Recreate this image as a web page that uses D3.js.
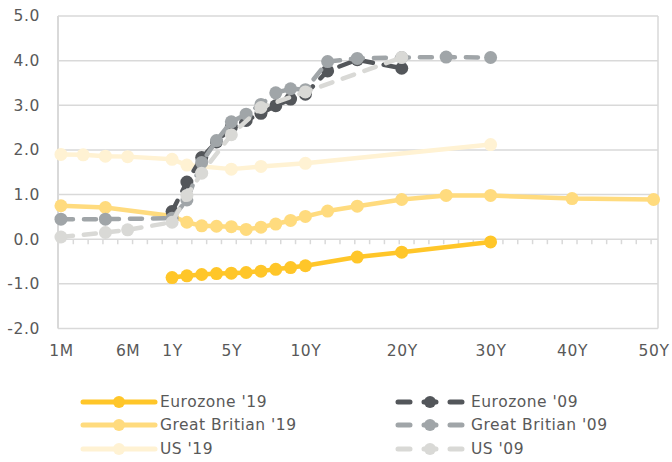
<!DOCTYPE html>
<html>
<head>
<meta charset="utf-8">
<script src="https://cdn.jsdelivr.net/npm/d3@7"></script>
<style>
    body { margin: 0; background: #fff; }
    svg text { font-family: "DejaVu Sans", sans-serif; font-size: 15.5px; letter-spacing: 0.6px; fill: #595959; }
    svg .legend text { font-size: 15.5px; letter-spacing: 0.5px; }
</style>
</head>
<body>
<svg width="672" height="462"></svg>
<script>
// tenors and where they sit on the x axis (axis units, one minor tick = 1)
const tenors = ["1M", "2M", "3M", "6M", "1Y", "2Y", "3Y", "4Y", "5Y", "6Y", "7Y", "8Y", "9Y", "10Y", "12Y", "15Y", "20Y", "25Y", "30Y", "40Y", "50Y"];
const tenorPos = [0, 1.5, 3, 4.5, 7.5, 8.5, 9.5, 10.5, 11.5, 12.5, 13.5, 14.5, 15.5, 16.5, 18, 20, 23, 26, 29, 34.5, 40];
const xLabels = ["1M", "6M", "1Y", "5Y", "10Y", "20Y", "30Y", "40Y", "50Y"];
const yTicks = [-2, -1, 0, 1, 2, 3, 4, 5];

// yields (%), null = no point for that tenor
const eurozone19 = [null, null, null, null, -0.86, -0.82, -0.79, -0.77, -0.76, -0.745, -0.715, -0.675, -0.635, -0.595, null, -0.40, -0.29, null, -0.06, null, null];
const britain19 = [0.75, null, 0.71, null, 0.52, 0.38, 0.30, 0.29, 0.28, 0.22, 0.27, 0.34, 0.42, 0.51, 0.63, 0.74, 0.89, 0.98, 0.98, 0.91, 0.89];
const us19 = [1.90, 1.89, 1.86, 1.85, 1.79, 1.66, null, null, 1.57, null, 1.63, null, null, 1.70, null, null, null, null, 2.12, null, null];
const eurozone09 = [null, null, null, null, 0.62, 1.28, 1.83, 2.18, 2.51, 2.66, 2.82, 2.99, 3.14, 3.25, 3.77, 4.02, 3.83, null, null, null, null];
const britain09 = [0.45, null, 0.45, null, 0.47, 0.88, 1.72, 2.21, 2.63, 2.80, 3.02, 3.28, 3.37, 3.35, 3.98, 4.05, 4.07, 4.08, 4.07, null, null];
const us09 = [0.05, null, 0.15, 0.21, 0.38, 0.98, 1.48, null, 2.34, null, 2.95, null, null, 3.30, null, null, 4.07, null, null, null, null];

const seriesNames = ["Eurozone '19", "Great Britian '19", "US '19", "Eurozone '09", "Great Britian '09", "US '09"];
const seriesValues = [eurozone19, britain19, us19, eurozone09, britain09, us09];
const seriesColors = ["#FFC629", "#FFDB7E", "#FFF2D3", "#53565A", "#A0A5A8", "#D9D9D6"];
const seriesDashed = [false, false, false, true, true, true];

const svg = d3.select("svg");
const plot = {left: 58, right: 658, top: 16, bottom: 328.5};
const gridColor = "#D9D9D9";

const x = d3.scaleLinear().domain([-0.2, 40.3]).range([plot.left, plot.right]);
const y = d3.scaleLinear().domain([-2, 5]).range([plot.bottom, plot.top]);

// horizontal gridlines
svg.append("g")
    .selectAll("line")
    .data(yTicks)
    .join("line")
    .attr("x1", plot.left)
    .attr("x2", plot.right)
    .attr("y1", d => y(d))
    .attr("y2", d => y(d))
    .attr("stroke", gridColor)
    .attr("stroke-width", 1.5);

// plot area sides
svg.append("line")
    .attr("x1", plot.left).attr("x2", plot.left)
    .attr("y1", plot.top).attr("y2", plot.bottom)
    .attr("stroke", gridColor).attr("stroke-width", 2);
svg.append("line")
    .attr("x1", plot.right).attr("x2", plot.right)
    .attr("y1", plot.top).attr("y2", plot.bottom)
    .attr("stroke", gridColor).attr("stroke-width", 1.5);

// small tick marks on the zero line
const minorTicks = d3.range(41).map(k => k - 0.2);
const tickAxis = svg.append("g")
    .attr("transform", "translate(0," + y(0) + ")")
    .call(d3.axisBottom(x).tickValues(minorTicks).tickSize(5).tickFormat(""));
tickAxis.select(".domain").remove();
tickAxis.selectAll("line").attr("stroke", gridColor).attr("stroke-width", 1.5);

// y axis labels
const yAxis = svg.append("g")
    .attr("transform", "translate(" + plot.left + ",0)")
    .call(d3.axisLeft(y).tickValues(yTicks).tickSize(0).tickPadding(18).tickFormat(d => d.toFixed(1)));
yAxis.select(".domain").remove();
yAxis.selectAll("text").attr("font-size", null).attr("font-family", null);

// x axis labels
const xAxis = svg.append("g")
    .attr("transform", "translate(0," + plot.bottom + ")")
    .call(d3.axisBottom(x)
        .tickValues(xLabels.map(l => tenorPos[tenors.indexOf(l)]))
        .tickSize(0).tickPadding(16)
        .tickFormat(v => tenors[tenorPos.indexOf(v)]));
xAxis.select(".domain").remove();
xAxis.selectAll("text").attr("font-size", null).attr("font-family", null);

const line = d3.line()
    .x(d => x(d.pos))
    .y(d => y(d.value));

seriesValues.forEach(function (values, i) {
    const points = tenors
        .map((t, j) => ({pos: tenorPos[j], value: values[j]}))
        .filter(d => d.value !== null);
    const g = svg.append("g");
    g.append("path")
        .attr("d", line(points))
        .attr("fill", "none")
        .attr("stroke", seriesColors[i])
        .attr("stroke-width", 4.5)
        .attr("stroke-linejoin", "round")
        .attr("stroke-linecap", "round")
        .attr("stroke-dasharray", seriesDashed[i] ? "12,11" : null);
    g.selectAll("circle")
        .data(points)
        .join("circle")
        .attr("cx", d => x(d.pos))
        .attr("cy", d => y(d.value))
        .attr("r", 6.5)
        .attr("fill", seriesColors[i]);
});

// legend, two columns of three
const legendCols = [{x1: 83, x2: 155, tx: 160}, {x1: 398, x2: 462, tx: 471}];
const legendRows = [402, 425, 449];
const legend = svg.append("g").attr("class", "legend");
seriesNames.forEach(function (name, i) {
    const col = legendCols[Math.floor(i / 3)];
    const ly = legendRows[i % 3];
    const g = legend.append("g");
    g.append("line")
        .attr("x1", col.x1).attr("x2", col.x2)
        .attr("y1", ly).attr("y2", ly)
        .attr("stroke", seriesColors[i])
        .attr("stroke-width", 5)
        .attr("stroke-linecap", "round")
        .attr("stroke-dasharray", seriesDashed[i] ? "12,14" : null);
    g.append("circle")
        .attr("cx", (col.x1 + col.x2) / 2)
        .attr("cy", ly)
        .attr("r", 6)
        .attr("fill", seriesColors[i]);
    g.append("text")
        .attr("x", col.tx)
        .attr("y", ly)
        .attr("dy", "0.35em")
        .text(name);
});
</script>
</body>
</html>
